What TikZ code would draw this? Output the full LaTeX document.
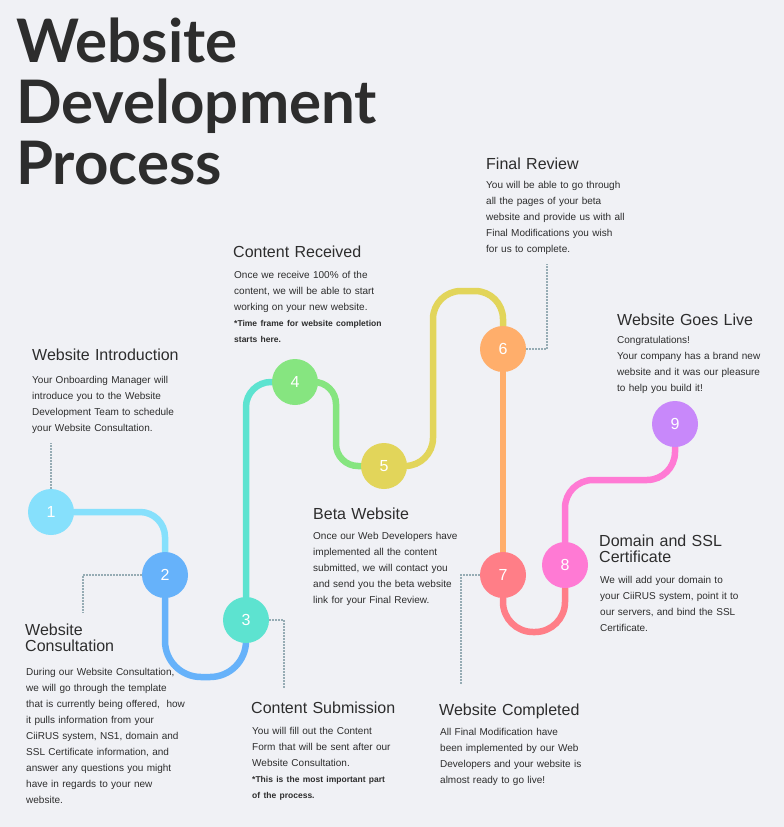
\documentclass[tikz,border=0pt]{standalone}
\usepackage{fontspec}
\setmainfont{Liberation Sans}
\newfontfamily\titlefont{Lato}
\usetikzlibrary{positioning,backgrounds}
\definecolor{PageGray}{RGB}{240,241,245}
\definecolor{InkGray}{RGB}{45,45,45}
\definecolor{TextGray}{RGB}{45,45,45}
\definecolor{DotGray}{RGB}{150,172,180}
\definecolor{StepOne}{RGB}{134,224,252}
\definecolor{StepTwo}{RGB}{102,178,250}
\definecolor{StepThree}{RGB}{93,227,208}
\definecolor{StepFour}{RGB}{134,229,128}
\definecolor{StepFive}{RGB}{226,213,90}
\definecolor{StepSix}{RGB}{255,174,107}
\definecolor{StepSeven}{RGB}{255,126,135}
\definecolor{StepEight}{RGB}{255,122,212}
\definecolor{StepNine}{RGB}{200,136,250}
\newcommand{\boldnote}[1]{{\bfseries\fontsize{8.5}{16}\selectfont #1}}
\tikzset{
  stepdot/.style={circle,fill=#1,minimum size=46pt,inner sep=0pt,text=white,
    font=\fontsize{16}{16}\selectfont},
  track/.style={line width=6.5pt,draw=#1},
  leader/.style={DotGray,line width=1.4pt,dash pattern=on 1.4pt off 1.6pt},
  heading/.style={anchor=base west,inner sep=0pt,text=InkGray,text width=220pt,
    align=left,font=\fontsize{16}{16}\selectfont},
  blurb/.style={anchor=base west,inner sep=0pt,text=TextGray,text width=220pt,
    align=left,font=\fontsize{10}{16}\selectfont},
}

\begin{document}
\begin{tikzpicture}[x=1pt,y=-1pt]
  \useasboundingbox (0,0) rectangle (784,827);
  % title
  \node[anchor=base west,inner sep=0pt,text=InkGray,text width=500pt,align=left,
    font=\titlefont\bfseries\fontsize{60}{61}\selectfont] (title) at (16,62)
    {Website\\Development\\Process};
  % steps
  \node[stepdot=StepOne]   (s1) at (51,512)  {1};
  \node[stepdot=StepTwo]   (s2) at (165,575) {2};
  \node[stepdot=StepThree] (s3) at (246,620) {3};
  \node[stepdot=StepFour]  (s4) at (295,382) {4};
  \node[stepdot=StepFive]  (s5) at (384,466) {5};
  \node[stepdot=StepSix]   (s6) at (503,349) {6};
  \node[stepdot=StepSeven] (s7) at (503,575) {7};
  \node[stepdot=StepEight] (s8) at (565,565) {8};
  \node[stepdot=StepNine]  (s9) at (675,424) {9};
  \begin{scope}[on background layer]
    \fill[PageGray] (0,0) rectangle (784,827);
    \draw[track=StepOne,rounded corners=25pt] (s1.center) -| (s2.center);
    \draw[track=StepTwo,rounded corners=36pt] (s2.center) -- ++(0,102) -| (s3.center);
    \draw[track=StepThree,rounded corners=25pt] (s3.center) |- (s4.center);
    \draw[track=StepFour,rounded corners=22pt] (s4.center) -- ++(41,0) |- (s5.center);
    \draw[track=StepFive,rounded corners=28pt] (s5.center) -- ++(49,0) -- ++(0,-175) -| (s6.center);
    \draw[track=StepSix] (s6.center) -- (s7.center);
    \draw[track=StepSeven,rounded corners=30pt] (s7.center) -- ++(0,57) -| (s8.center);
    \draw[track=StepEight,rounded corners=28pt] (s8.center) -- ++(0,-85) -| (s9.center);
  \end{scope}
  % dotted leaders
  \coordinate (l1) at (51,443);
  \coordinate (l2) at (83,613);
  \coordinate (l3) at (284,689);
  \coordinate (l6) at (547,264);
  \coordinate (l7) at (461,684);
  \draw[leader] (s1.north) -- (l1);
  \draw[leader] (s2.west) -| (l2);
  \draw[leader] (s3.east) -| (l3);
  \draw[leader] (s6.east) -| (l6);
  \draw[leader] (s7.west) -| (l7);
  % texts
  \node[heading] (h1) at (32,360) {Website Introduction};
  \node[blurb] (t1) at (32,383) {Your Onboarding Manager will\\introduce you to the Website\\Development Team to schedule\\your Website Consultation.};
  \node[heading] (h2) at (25,635) {Website\\Consultation};
  \node[blurb] (t2) at (26,675) {During our Website Consultation,\\we will go through the template\\that is currently being offered,~ how\\it pulls information from your\\CiiRUS system, NS1, domain and\\SSL Certificate information, and\\answer any questions you might\\have in regards to your new\\website.};
  \node[heading] (h3) at (251,713) {Content Submission};
  \node[blurb] (t3) at (252,734) {You will fill out the Content\\Form that will be sent after our\\Website Consultation.\\\boldnote{*This is the most important part}\\\boldnote{of the process.}};
  \node[heading] (h4) at (233,257) {Content Received};
  \node[blurb] (t4) at (234,278) {Once we receive 100\% of the\\content, we will be able to start\\working on your new website.\\\boldnote{*Time frame for website completion}\\\boldnote{starts here.}};
  \node[heading] (h5) at (313,519) {Beta Website};
  \node[blurb] (t5) at (313,539) {Once our Web Developers have\\implemented all the content\\submitted, we will contact you\\and send you the beta website\\link for your Final Review.};
  \node[heading] (h6) at (486,169) {Final Review};
  \node[blurb] (t6) at (486,188) {You will be able to go through\\all the pages of your beta\\website and provide us with all\\Final Modifications you wish\\for us to complete.};
  \node[heading] (h7) at (439,715) {Website Completed};
  \node[blurb] (t7) at (440,735) {All Final Modification have\\been implemented by our Web\\Developers and your website is\\almost ready to go live!};
  \node[heading] (h8) at (599,546) {Domain and SSL\\Certificate};
  \node[blurb] (t8) at (600,583) {We will add your domain to\\your CiiRUS system, point it to\\our servers, and bind the SSL\\Certificate.};
  \node[heading] (h9) at (617,325) {Website Goes Live};
  \node[blurb] (t9) at (617,343) {Congratulations!\\Your company has a brand new\\website and it was our pleasure\\to help you build it!};
\end{tikzpicture}
\end{document}
